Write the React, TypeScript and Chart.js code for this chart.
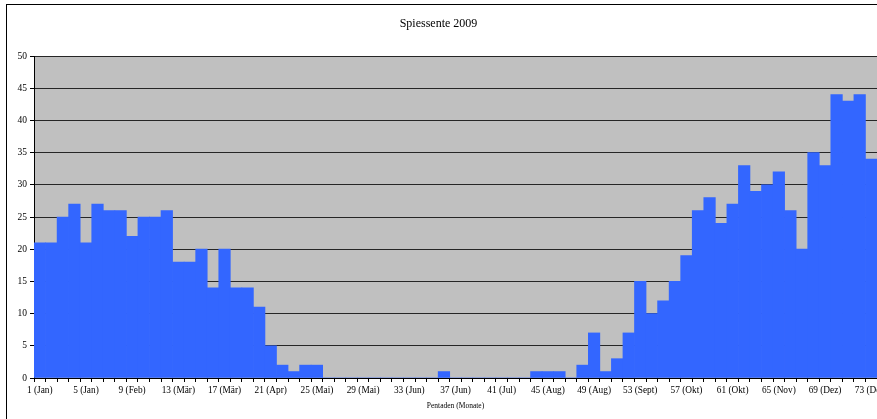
import React, { useEffect, useRef } from "react";
import { Chart, registerables } from "chart.js";

Chart.register(...registerables);

const chartTitle = "Spiessente 2009";
const xAxisTitle = "Pentaden (Monate)";

const pentads: number[] = [
  1, 2, 3, 4, 5, 6, 7, 8, 9, 10, 11, 12, 13, 14, 15, 16, 17, 18, 19, 20,
  21, 22, 23, 24, 25, 26, 27, 28, 29, 30, 31, 32, 33, 34, 35, 36, 37, 38, 39, 40,
  41, 42, 43, 44, 45, 46, 47, 48, 49, 50, 51, 52, 53, 54, 55, 56, 57, 58, 59, 60,
  61, 62, 63, 64, 65, 66, 67, 68, 69, 70, 71, 72, 73,
];

const tickLabels: string[] = [
  "1 (Jan)", "5 (Jan)", "9 (Feb)", "13 (Mär)", "17 (Mär)", "21 (Apr)", "25 (Mai)",
  "29 (Mai)", "33 (Jun)", "37 (Jun)", "41 (Jul)", "45 (Aug)", "49 (Aug)", "53 (Sept)",
  "57 (Okt)", "61 (Okt)", "65 (Nov)", "69 (Dez)", "73 (Dez)",
];

const counts: number[] = [
  21, 21, 25, 27, 21, 27, 26, 26, 22, 25, 25, 26, 18, 18, 20, 14, 20, 14, 14, 11,
  5, 2, 1, 2, 2, 0, 0, 0, 0, 0, 0, 0, 0, 0, 0, 1, 0, 0, 0, 0,
  0, 0, 0, 1, 1, 1, 0, 2, 7, 1, 3, 7, 15, 10, 12, 15, 19, 26, 28, 24,
  27, 33, 29, 30, 32, 26, 20, 35, 33, 44, 43, 44, 34,
];

const W = 877;
const H = 419;

export default function App() {
  const ref = useRef<HTMLCanvasElement | null>(null);

  useEffect(() => {
    if (!ref.current) return;
    const bgPlugin = {
      id: "bgPlugin",
      beforeDraw(chart: any) {
        const { ctx, chartArea } = chart;
        ctx.save();
        ctx.fillStyle = "#ffffff";
        ctx.fillRect(0, 0, W, H);
        ctx.fillStyle = "#C0C0C0";
        ctx.fillRect(chartArea.left, chartArea.top, chartArea.right - chartArea.left, chartArea.bottom - chartArea.top);
        ctx.strokeStyle = "#000000";
        ctx.lineWidth = 1;
        ctx.strokeRect(6.5, 4.5, 2000, 2000);
        ctx.restore();
      },
    };

    const chart = new Chart(ref.current, {
      type: "bar",
      data: {
        labels: pentads.map(String),
        datasets: [
          {
            data: counts,
            backgroundColor: "#3366FF",
            borderWidth: 0,
            barPercentage: 1,
            categoryPercentage: 1,
          },
        ],
      },
      options: {
        responsive: false,
        animation: false,
        layout: { padding: 0 },
        plugins: {
          legend: { display: false },
          tooltip: { enabled: false },
          title: {
            display: true,
            text: chartTitle,
            color: "#000",
            font: { family: "Liberation Serif", size: 12, weight: "normal" },
            padding: { top: 16.6, bottom: 25 },
          },
        },
        scales: {
          x: {
            offset: true,
            grid: {
              offset: true,
              drawOnChartArea: false,
              drawTicks: true,
              tickLength: 4,
              color: "#000",
            },
            border: { color: "#000", width: 1 },
            ticks: {
              autoSkip: false,
              maxRotation: 0,
              minRotation: 0,
              padding: 3,
              color: "#000",
              font: { family: "Liberation Serif", size: 9.3 },
              callback: (_v: any, i: number) => (i % 4 === 0 ? tickLabels[i / 4] : ""),
            },
            title: {
              display: true,
              text: xAxisTitle,
              color: "#000",
              font: { family: "Liberation Serif", size: 7.5 },
              padding: { top: 0, bottom: 8.5 },
            },
            afterFit: (scale: any) => {
              scale.height = 41;
              scale.paddingLeft = 0;
              scale.paddingRight = 0;
            },
          },
          y: {
            min: 0,
            max: 50,
            grid: {
              color: "#262626",
              tickLength: 4,
              tickColor: "#000",
            },
            border: { color: "#000", width: 1 },
            ticks: {
              stepSize: 5,
              padding: 3,
              color: "#000",
              font: { family: "Liberation Serif", size: 9.5 },
            },
            afterFit: (scale: any) => {
              scale.width = 34;
            },
          },
        },
      },
      plugins: [bgPlugin],
    } as any);

    return () => chart.destroy();
  }, []);

  return (
    <div style={{ position: "fixed", left: 0, top: 0, width: W, height: H, background: "#fff" }}>
      <canvas ref={ref} width={W} height={H} style={{ width: W, height: H, display: "block" }} />
    </div>
  );
}
